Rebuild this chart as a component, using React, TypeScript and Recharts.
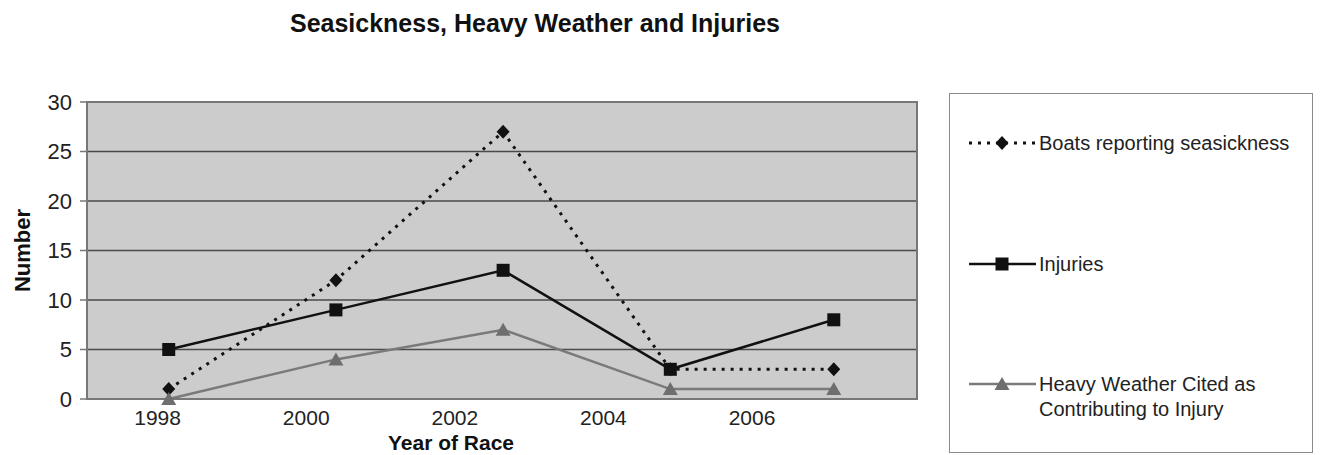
import { LineChart, Line, XAxis, YAxis, CartesianGrid, ReferenceArea } from 'recharts';

const years = [1998.15, 2000.4, 2002.65, 2004.9, 2007.1];
const seasickness = [1, 12, 27, 3, 3];
const injuries = [5, 9, 13, 3, 8];
const heavyWeather = [0, 4, 7, 1, 1];
const yearTicks = [1998, 2000, 2002, 2004, 2006];
const numberTicks = [0, 5, 10, 15, 20, 25, 30];

const X_DOMAIN: [number, number] = [1997.05, 2008.22];
const FONT = '"Liberation Sans", Arial, Helvetica, sans-serif';

const data = years.map((year, i) => ({
    year,
    seasickness: seasickness[i],
    injuries: injuries[i],
    heavy: heavyWeather[i],
}));

const Diamond = ({ cx, cy, fill }: any) => (
    <path d={`M${cx},${cy - 7} L${cx + 6.5},${cy} L${cx},${cy + 7} L${cx - 6.5},${cy} Z`} fill={fill} />
);

const Square = ({ cx, cy, fill }: any) => (
    <rect x={cx - 6.5} y={cy - 6.5} width={13} height={13} fill={fill} />
);

const Triangle = ({ cx, cy, fill }: any) => (
    <path d={`M${cx},${cy - 7} L${cx + 7.5},${cy + 6} L${cx - 7.5},${cy + 6} Z`} fill={fill} />
);

const legendItems = [
    { label: ['Boats reporting seasickness'], stroke: '#111', dash: '3 6', Marker: Diamond, markerFill: '#111', top: 49 },
    { label: ['Injuries'], stroke: '#111', dash: undefined, Marker: Square, markerFill: '#111', top: 170 },
    { label: ['Heavy Weather Cited as', 'Contributing to Injury'], stroke: '#7a7a7a', dash: undefined, Marker: Triangle, markerFill: '#6e6e6e', top: 290 },
];

export default function App() {
    return (
        <div style={{ position: 'absolute', left: 0, top: 0, width: 1320, height: 455, background: '#fff', fontFamily: FONT }}>
            <div style={{ position: 'absolute', left: 0, top: 9, width: 1070, textAlign: 'center', fontSize: 25, fontWeight: 'bold', color: '#111' }}>
                Seasickness, Heavy Weather and Injuries
            </div>

            <LineChart width={1320} height={455} data={data} margin={{ top: 102, right: 403, bottom: 0, left: 0 }}>
                <CartesianGrid vertical={false} fill="#cccccc" stroke="#4a4a4a" strokeWidth={1.5} />
                <ReferenceArea x1={X_DOMAIN[0]} x2={X_DOMAIN[1]} y1={0} y2={30} fill="none" stroke="#777" strokeWidth={2} />
                <XAxis
                    dataKey="year"
                    type="number"
                    domain={X_DOMAIN}
                    allowDataOverflow
                    ticks={yearTicks}
                    height={56}
                    tickLine={false}
                    tickSize={0}
                    tickMargin={11}
                    axisLine={{ stroke: '#777', strokeWidth: 2 }}
                    tick={{ fontSize: 21, fill: '#222' }}
                    label={{
                        content: ({ viewBox }: any) => (
                            <text x={viewBox.x + 364} y={450} textAnchor="middle" fontSize={21} fontWeight="bold" fill="#111">
                                Year of Race
                            </text>
                        ),
                    }}
                />
                <YAxis
                    type="number"
                    domain={[0, 30]}
                    ticks={numberTicks}
                    width={87}
                    tickSize={7}
                    tickMargin={8}
                    axisLine={{ stroke: '#777', strokeWidth: 2 }}
                    tickLine={{ stroke: '#777', strokeWidth: 1.5 }}
                    tick={{ fontSize: 22, fill: '#222' }}
                    label={{
                        content: ({ viewBox }: any) => {
                            const x = viewBox.x + 22;
                            const y = viewBox.y + viewBox.height / 2;
                            return (
                                <text x={x} y={y} transform={`rotate(-90, ${x}, ${y})`} textAnchor="middle" dominantBaseline="central" fontSize={22} fontWeight="bold" fill="#111">
                                    Number
                                </text>
                            );
                        },
                    }}
                />
                <Line
                    dataKey="seasickness"
                    stroke="#111"
                    strokeWidth={3}
                    strokeDasharray="3 6"
                    dot={(p: any) => <Diamond key={`d-${p.index}`} cx={p.cx} cy={p.cy} fill="#111" />}
                    isAnimationActive={false}
                />
                <Line
                    dataKey="heavy"
                    stroke="#7a7a7a"
                    strokeWidth={2.5}
                    dot={(p: any) => <Triangle key={`t-${p.index}`} cx={p.cx} cy={p.cy} fill="#6e6e6e" />}
                    isAnimationActive={false}
                />
                <Line
                    dataKey="injuries"
                    stroke="#111"
                    strokeWidth={2.5}
                    dot={(p: any) => <Square key={`s-${p.index}`} cx={p.cx} cy={p.cy} fill="#111" />}
                    isAnimationActive={false}
                />
            </LineChart>

            <div style={{ position: 'absolute', left: 949, top: 93, width: 364, height: 360, border: '1.5px solid #8a8a8a', boxSizing: 'border-box' }}>
                {legendItems.map(({ label, stroke, dash, Marker, markerFill, top }) => (
                    <div key={label[0]} style={{ position: 'absolute', left: 0, top: top - 12, width: '100%' }}>
                        <svg width={70} height={24} style={{ position: 'absolute', left: 18, top: 0 }}>
                            <line x1={1} y1={12} x2={68} y2={12} stroke={stroke} strokeWidth={dash ? 3 : 2.5} strokeDasharray={dash} />
                            <Marker cx={34} cy={12} fill={markerFill} />
                        </svg>
                        <div style={{ position: 'absolute', left: 89, top: 0, fontSize: 20, lineHeight: '25px', color: '#222', whiteSpace: 'nowrap' }}>
                            {label.map((l) => (
                                <div key={l}>{l}</div>
                            ))}
                        </div>
                    </div>
                ))}
            </div>
        </div>
    );
}
